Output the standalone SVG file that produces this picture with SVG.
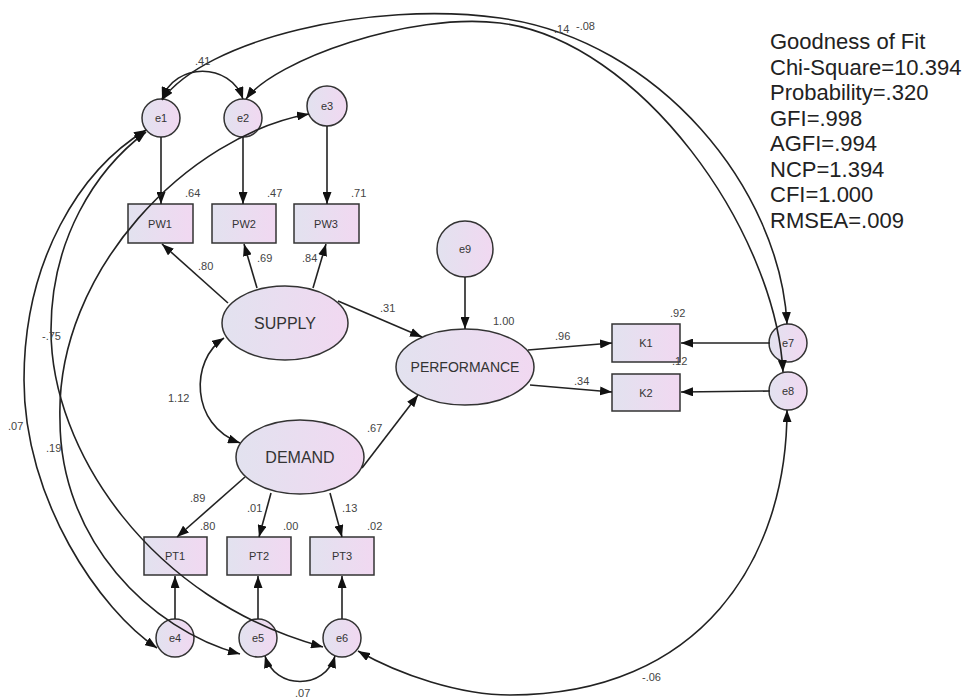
<svg xmlns="http://www.w3.org/2000/svg" width="967" height="698" viewBox="0 0 967 698">
<style>
.n{fill:url(#g);stroke:#333;stroke-width:1.5}
.c{fill:none;stroke:#222;stroke-width:1.6}
.a{marker-end:url(#ah)}
.b{marker-start:url(#ah);marker-end:url(#ah)}
.t{font-family:"Liberation Sans",Arial,sans-serif;fill:#333;text-anchor:middle}
.l{font-family:"Liberation Sans",Arial,sans-serif;fill:#444;font-size:11px}
.gf{font-family:"Liberation Sans",Arial,sans-serif;fill:#222;font-size:22px}
</style>
<defs>
<linearGradient id="g" x1="0" y1="0" x2="1" y2="0"><stop offset="0" stop-color="#e2e2ef"/><stop offset="1" stop-color="#f1d8f1"/></linearGradient>
<marker id="ah" markerUnits="userSpaceOnUse" markerWidth="13" markerHeight="9" refX="12" refY="4.5" orient="auto-start-reverse"><path d="M0,0 L12,4.5 L0,9 z" fill="#111"/></marker>
</defs>
<rect width="967" height="698" fill="#fff"/>
<g id="e1"><circle class="n" cx="161" cy="118" r="19"/><text class="t" x="161" y="122" font-size="11">e1</text></g>
<g id="e2"><circle class="n" cx="243" cy="118" r="19"/><text class="t" x="243" y="122" font-size="11">e2</text></g>
<g id="e3"><circle class="n" cx="327" cy="106" r="20"/><text class="t" x="327" y="110" font-size="11">e3</text></g>
<g id="PW1"><rect class="n" x="128" y="204" width="65" height="39"/><text class="t" x="160" y="228" font-size="11">PW1</text></g>
<g id="PW2"><rect class="n" x="212" y="204" width="64" height="39"/><text class="t" x="244" y="228" font-size="11">PW2</text></g>
<g id="PW3"><rect class="n" x="294" y="204" width="65" height="39"/><text class="t" x="326" y="228" font-size="11">PW3</text></g>
<g id="SUPPLY"><ellipse class="n" cx="285" cy="323" rx="63" ry="37"/><text class="t" x="285" y="329" font-size="16">SUPPLY</text></g>
<g id="e9"><circle class="n" cx="465" cy="249" r="28"/><text class="t" x="465" y="253" font-size="11">e9</text></g>
<g id="PERFORMANCE"><ellipse class="n" cx="465" cy="367" rx="69" ry="38"/><text class="t" x="465" y="372" font-size="14">PERFORMANCE</text></g>
<g id="K1"><rect class="n" x="612" y="324" width="68" height="38"/><text class="t" x="646" y="347" font-size="11">K1</text></g>
<g id="K2"><rect class="n" x="612" y="374" width="68" height="37"/><text class="t" x="646" y="397" font-size="11">K2</text></g>
<g id="e7"><circle class="n" cx="788" cy="343" r="19"/><text class="t" x="788" y="347" font-size="11">e7</text></g>
<g id="e8"><circle class="n" cx="788" cy="391" r="19"/><text class="t" x="788" y="395" font-size="11">e8</text></g>
<g id="DEMAND"><ellipse class="n" cx="300" cy="457" rx="64" ry="37"/><text class="t" x="300" y="463" font-size="16">DEMAND</text></g>
<g id="PT1"><rect class="n" x="144" y="537" width="63" height="38"/><text class="t" x="175" y="560" font-size="11">PT1</text></g>
<g id="PT2"><rect class="n" x="227" y="537" width="64" height="38"/><text class="t" x="259" y="560" font-size="11">PT2</text></g>
<g id="PT3"><rect class="n" x="310" y="537" width="64" height="38"/><text class="t" x="342" y="560" font-size="11">PT3</text></g>
<g id="e4"><circle class="n" cx="175" cy="638" r="19"/><text class="t" x="175" y="642" font-size="11">e4</text></g>
<g id="e5"><circle class="n" cx="258" cy="638" r="19"/><text class="t" x="258" y="642" font-size="11">e5</text></g>
<g id="e6"><circle class="n" cx="342" cy="638" r="19"/><text class="t" x="342" y="642" font-size="11">e6</text></g>
<g id="connectors">
<path class="c a" d="M161,137 L161,204"/>
<path class="c a" d="M243,137 L243,204"/>
<path class="c a" d="M327,126 L327,204"/>
<path class="c a" d="M228,303 L162,244"/>
<path class="c a" d="M257,288 L244,244"/>
<path class="c a" d="M313,288 L326,244"/>
<path class="c a" d="M338,301 L422,337"/>
<path class="c a" d="M465,277 L465,329"/>
<path class="c a" d="M528,350 L612,343"/>
<path class="c a" d="M530,385 L612,392"/>
<path class="c a" d="M770,343 L681,343"/>
<path class="c a" d="M770,391 L681,392"/>
<path class="c a" d="M362,468 L418,395"/>
<path class="c a" d="M245,477 L177,537"/>
<path class="c a" d="M271,493 L259,537"/>
<path class="c a" d="M330,493 L342,537"/>
<path class="c a" d="M175,619 L175,576"/>
<path class="c a" d="M258,619 L258,576"/>
<path class="c a" d="M342,619 L342,576"/>
<path class="c b" d="M162,99 C175,62 230,62 243,99"/>
<path class="c b" d="M162,100 C205,40 370,0 500,18 C660,40 780,190 787,324"/>
<path class="c b" d="M246,99 C275,60 410,12 500,23 C640,40 775,230 783,372"/>
<path class="c b" d="M224,338 C190,360 190,425 240,443"/>
<path class="c b" d="M265,656 C275,690 325,690 335,656"/>
<path class="c b" d="M358,651 C400,675 460,695 510,695 C700,695 787,560 787,410"/>
<path class="c b" d="M146,130 C80,170 24,260 24,380 C24,500 100,610 157,648"/>
<path class="c b" d="M146,132 C95,170 51,240 51,330 C51,450 150,600 323,647"/>
<path class="c b" d="M309,114 C190,135 55,270 60,420 C60,540 150,630 240,654"/>
</g>
<g id="labels">
<text class="l" x="195" y="65">.41</text>
<text class="l" x="554" y="33">.14</text>
<text class="l" x="576" y="30">-.08</text>
<text class="l" x="185" y="197">.64</text>
<text class="l" x="267" y="197">.47</text>
<text class="l" x="351" y="197">.71</text>
<text class="l" x="198" y="270">.80</text>
<text class="l" x="257" y="262">.69</text>
<text class="l" x="302" y="262">.84</text>
<text class="l" x="380" y="312">.31</text>
<text class="l" x="493" y="325" font-size="12">1.00</text>
<text class="l" x="555" y="340">.96</text>
<text class="l" x="574" y="385">.34</text>
<text class="l" x="670" y="317">.92</text>
<text class="l" x="672" y="365">.12</text>
<text class="l" x="168" y="402" font-size="12">1.12</text>
<text class="l" x="42" y="340">-.75</text>
<text class="l" x="8" y="430">.07</text>
<text class="l" x="46" y="452">.19</text>
<text class="l" x="367" y="432">.67</text>
<text class="l" x="190" y="502">.89</text>
<text class="l" x="200" y="530">.80</text>
<text class="l" x="247" y="512">.01</text>
<text class="l" x="283" y="530">.00</text>
<text class="l" x="342" y="512">.13</text>
<text class="l" x="367" y="530">.02</text>
<text class="l" x="295" y="697">.07</text>
<text class="l" x="642" y="681">-.06</text>
</g>
<g id="fit">
<text class="gf" x="770" y="49">Goodness of Fit</text>
<text class="gf" x="770" y="75">Chi-Square=10.394</text>
<text class="gf" x="770" y="100">Probability=.320</text>
<text class="gf" x="770" y="126">GFI=.998</text>
<text class="gf" x="770" y="151">AGFI=.994</text>
<text class="gf" x="770" y="177">NCP=1.394</text>
<text class="gf" x="770" y="202">CFI=1.000</text>
<text class="gf" x="770" y="228">RMSEA=.009</text>
</g>
</svg>
